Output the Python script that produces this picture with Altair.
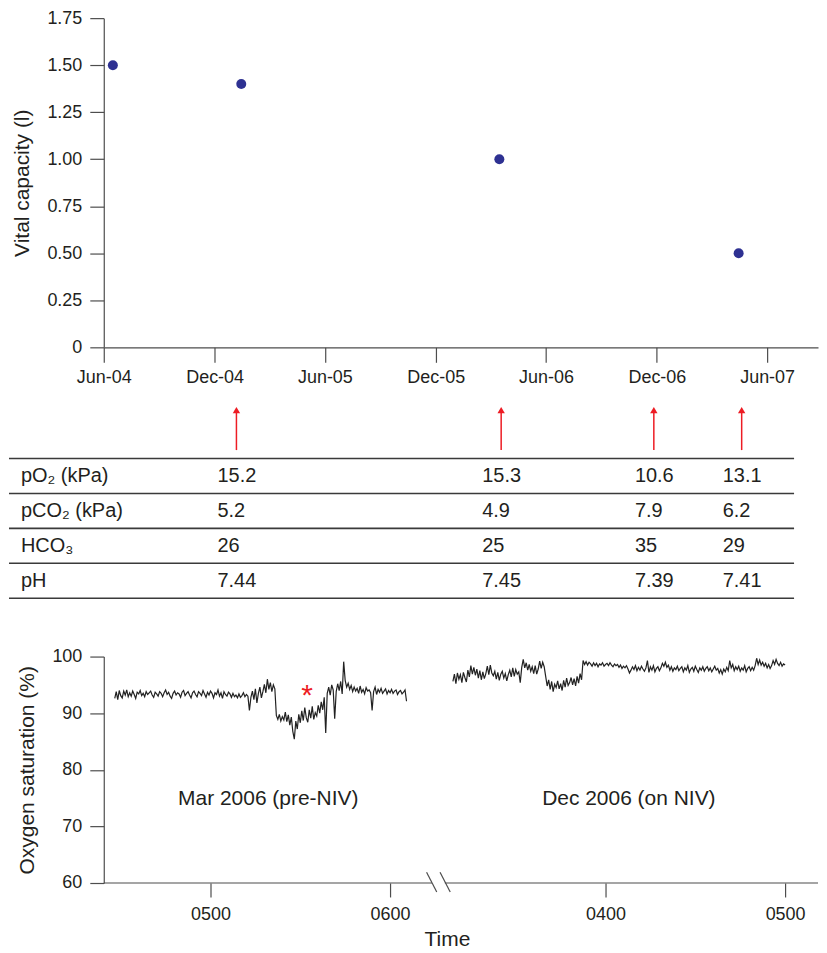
import altair as alt
import pandas as pd

FONT = "Liberation Sans"
TXT = "#231f20"
AX = "#4d4d4d"
RED = "#ed1c24"
NAVY = "#2e3192"

# ---------------- top panel: vital capacity ----------------
vc_dates = ["2004-06-16T00:00:00", "2005-01-14T00:00:00", "2006-03-16T00:00:00", "2007-04-15T00:00:00"]
vc_values = [1.50, 1.40, 1.00, 0.50]
vc_ticks = [0, 0.25, 0.5, 0.75, 1.0, 1.25, 1.5, 1.75]
date_ticks = [(2004, 6), (2004, 12), (2005, 6), (2005, 12), (2006, 6), (2006, 12), (2007, 6)]

# ---------------- blood gas table ----------------
abg_dates = ["2005-01-06T00:00:00", "2006-03-19T00:00:00", "2006-11-26T00:00:00", "2007-04-20T00:00:00"]
abg_rows = ["pO\u2082 (kPa)", "pCO\u2082 (kPa)", "HCO\u2083", "pH"]
po2 = ["15.2", "15.3", "10.6", "13.1"]
pco2 = ["5.2", "4.9", "7.9", "6.2"]
hco3 = ["26", "25", "35", "29"]
ph = ["7.44", "7.45", "7.39", "7.41"]

# ---------------- overnight oximetry ----------------
# samples every 0.5 min; pre-NIV night starts 04:28, on-NIV night starts 03:09
pre_start_clock = 268.0
on_start_clock = 189.0
pre_niv = [
    92.6, 93.8, 92.4, 94.0, 93.1, 92.7, 93.9, 93.2, 94.1, 92.9,
    93.6, 93.0, 93.9, 93.3, 92.6, 93.7, 93.4, 94.0, 93.1, 93.5,
    92.9, 93.8, 93.3, 93.6, 93.9, 93.2, 92.8, 93.7, 93.4, 93.0,
    93.8, 93.5, 92.9, 93.6, 94.1, 93.3, 93.7, 93.0, 92.6, 93.5,
    93.9, 93.2, 93.6, 93.4, 92.8, 93.7, 94.0, 93.1, 93.5, 93.8,
    93.2, 92.7, 93.6, 93.9, 93.3, 92.9, 93.8, 93.5, 93.1, 94.0,
    93.4, 92.8, 93.7, 93.2, 93.9, 93.5, 92.7, 93.6, 93.3, 94.1,
    93.0, 93.6, 92.6, 93.8, 93.3, 93.0, 93.7, 93.4, 92.8, 93.5,
    92.9, 93.2, 92.7, 93.4, 92.8, 93.1, 93.6, 92.9, 93.3, 93.0,
    90.5, 92.8, 93.9, 92.4, 94.3, 91.8, 93.5, 94.6, 92.7, 93.8,
    95.1, 93.6, 96.0, 94.2, 95.4, 93.8, 95.0, 94.3, 89.6, 88.9,
    89.8, 88.6, 89.4, 88.8, 90.2, 88.5, 89.7, 87.9, 89.3, 86.8,
    85.4, 88.6, 87.2, 89.8, 88.3, 90.4, 88.7, 91.0, 89.2, 88.4,
    90.6, 89.1, 91.2, 88.9, 90.1, 89.5, 91.4, 90.0, 92.0, 90.6,
    92.8, 86.5, 93.5, 94.6, 93.2, 95.0, 94.1, 89.0, 93.8, 95.2,
    94.0, 95.6, 93.4, 99.1, 95.8, 94.6, 95.3, 94.2, 94.9, 93.8,
    94.6, 93.9, 94.4, 93.5, 94.8, 93.7, 94.2, 93.4, 94.5, 93.9,
    94.1, 93.6, 90.5, 93.8, 94.6, 93.3, 94.2, 93.7, 94.4, 93.5,
    93.9, 94.3, 93.4, 94.0, 93.6, 94.2, 93.5, 93.9, 94.1, 93.3,
    93.8, 94.0, 93.4, 93.7, 94.1, 92.1,
]
on_niv = [
    95.6, 96.9, 95.2, 97.1, 96.0, 96.8, 95.4, 97.2, 96.3, 95.5,
    97.6, 96.4, 98.4, 96.9, 98.1, 96.7, 97.8, 96.2, 97.5, 95.9,
    97.3, 96.1, 97.0, 98.3, 96.8, 98.5, 97.1, 96.6, 97.4, 96.0,
    97.2, 95.8, 96.9, 97.4, 96.2, 97.0, 95.7, 96.8, 97.6, 96.4,
    98.0, 96.5, 97.7, 96.9, 97.3, 95.4, 98.1, 99.5, 98.0, 98.9,
    97.6, 98.6, 97.4, 98.2, 97.0, 98.4, 96.9, 97.8, 99.2, 97.9,
    99.0, 98.2, 96.5, 94.8, 95.9, 94.2, 95.6, 93.8, 95.1, 94.5,
    95.7, 94.3, 95.2, 94.0, 95.8, 94.6, 96.2, 94.9, 95.4, 96.3,
    95.0, 96.1, 94.8, 96.5, 95.3, 97.0, 95.9, 99.3, 98.6, 99.1,
    98.5, 99.0, 98.7, 98.3, 98.9, 98.4, 98.8, 98.2, 98.7, 98.5,
    98.9, 98.3, 98.6, 98.8, 98.4, 98.9, 98.5, 98.2, 98.7, 98.4,
    98.6, 98.1, 98.5, 97.9, 98.3, 98.0, 98.4, 97.8, 97.1, 97.6,
    98.2, 97.7, 98.4, 97.5, 98.1, 97.6, 98.3, 97.8, 97.4, 98.0,
    99.3, 97.2, 98.2, 97.6, 98.4, 97.3, 97.9, 98.2, 97.5, 98.0,
    98.8, 98.3, 99.0, 98.1, 98.5, 97.6, 98.2, 97.4, 98.0, 97.7,
    98.3, 97.5, 97.9, 98.2, 97.3, 98.0, 97.6, 98.4, 97.2, 97.8,
    98.1, 97.4, 98.3, 97.7, 97.2, 98.0, 97.6, 98.2, 97.4, 97.9,
    98.2, 97.5, 98.0, 97.3, 97.8, 98.3, 97.6, 97.9, 97.1, 97.7,
    96.9, 97.8, 97.3, 98.1, 97.5, 99.3, 98.0, 98.6, 97.5, 98.2,
    97.7, 98.3, 97.4, 98.0, 97.6, 98.4, 97.3, 97.9, 98.2, 97.5,
    98.1, 97.6, 98.4, 99.7, 98.6, 99.4, 98.5, 99.0, 98.3, 98.8,
    98.0, 98.6, 97.9, 98.4, 99.3, 98.6, 99.5, 98.8, 98.4, 99.0,
    98.3, 98.7, 98.5,
]
sat_ticks = [60, 70, 80, 90, 100]
time_tick_labels = ["0500", "0600", "0400", "0500"]
time_tick_clock = [300, 360, 240, 300]          # minutes after midnight
time_tick_night = ["pre", "pre", "on", "on"]
night_labels = ["Mar 2006 (pre-NIV)", "Dec 2006 (on NIV)"]
night_label_clock = [319.3, 247.8]
night_label_sat = [74.8, 74.8]
event_clock = 332.3   # asterisk: desaturation event
event_sat = 94.4

# --- layout of the broken time axis (axis units = minutes) ---
night_offset = {"pre": 240.0, "on": 48.0}
axis_lo, axis_hi = 24.33, 263.0
break_lo, break_hi = 134.0, 138.3
slash_x = [132.2, 136.7]
slash_w = 3.4

W = 716

# ---------------- data frames ----------------
vc_df = pd.DataFrame({"date": vc_dates, "vc": vc_values})

tab_vals = [po2, pco2, hco3, ph]
abg_df = pd.DataFrame([
    {"date": d, "row": r, "val": tab_vals[r][i]}
    for r in range(len(abg_rows)) for i, d in enumerate(abg_dates)
])
arrow_df = pd.DataFrame({"date": abg_dates})
rowlab_df = pd.DataFrame({"row": list(range(len(abg_rows))), "label": abg_rows})
lines_df = pd.DataFrame({"row": [i - 0.5 for i in range(len(abg_rows) + 1)]})

trace_rows = []
for seg, start, vals in [("pre", pre_start_clock, pre_niv), ("on", on_start_clock, on_niv)]:
    for i, v in enumerate(vals):
        trace_rows.append({"seg": seg, "pos": start + 0.5 * i - night_offset[seg], "sat": v})
trace_df = pd.DataFrame(trace_rows)

tick_pos = [c - night_offset[n] for c, n in zip(time_tick_clock, time_tick_night)]
label_expr = " : ".join(
    f"datum.value == {p} ? '{l}'" for p, l in zip(tick_pos[:-1], time_tick_labels[:-1])
) + f" : '{time_tick_labels[-1]}'"

base_df = pd.DataFrame({"x": [axis_lo, break_hi], "x2": [break_lo, axis_hi], "y": [60, 60]})
slash_df = pd.DataFrame({"x": slash_x, "x2": [s + slash_w for s in slash_x],
                         "y": [61.9, 61.9], "y2": [58.4, 58.4]})
ann_df = pd.DataFrame({
    "pos": [c - night_offset[n] for c, n in zip(night_label_clock, ["pre", "on"])],
    "sat": night_label_sat, "label": night_labels})
ev_df = pd.DataFrame({"pos": [event_clock - night_offset["pre"]], "sat": [event_sat], "t": ["*"]})

# ---------------- scales ----------------
xs_time = alt.Scale(domain=[alt.DateTime(year=2004, month=6, date=1),
                            alt.DateTime(year=2007, month=8, date=24)])
ys_tab = alt.Scale(domain=[0, 3], range=[74, 179], nice=False, zero=False)
xs_min = alt.Scale(domain=[axis_lo, axis_hi], nice=False, zero=False)
ys_sat = alt.Scale(domain=[60, 100], nice=False, zero=False)

# ---------------- top ----------------
top = alt.Chart(vc_df).mark_circle(size=100, color=NAVY, opacity=1).encode(
    x=alt.X("date:T", scale=xs_time,
            axis=alt.Axis(values=[alt.DateTime(year=y, month=m, date=1) for y, m in date_ticks],
                          format="%b-%y", title=None, tickSize=15, labelPadding=6,
                          labelFlush=False, grid=False)),
    y=alt.Y("vc:Q", scale=alt.Scale(domain=[0, 1.75], nice=False),
            axis=alt.Axis(values=vc_ticks,
                          labelExpr="datum.value == 0 ? '0' : format(datum.value, '.2f')",
                          title="Vital capacity (l)", tickSize=14, labelPadding=8,
                          labelFlush=False, titlePadding=14, grid=False)),
).properties(width=W, height=330)

# ---------------- middle (table) ----------------
shafts = alt.Chart(arrow_df).mark_rule(color=RED, strokeWidth=1.5).encode(
    x=alt.X("date:T", scale=xs_time, axis=None), y=alt.value(48), y2=alt.value(10))
heads = alt.Chart(arrow_df).mark_point(shape="triangle-up", filled=True, size=55,
                                       color=RED, opacity=1).encode(
    x=alt.X("date:T", scale=xs_time, axis=None), y=alt.value(8))
hlines = alt.Chart(lines_df).mark_rule(color="#3a3a3a", strokeWidth=1.6).encode(
    x=alt.value(-95), x2=alt.value(692), y=alt.Y("row:Q", scale=ys_tab, axis=None))
vals = alt.Chart(abg_df).mark_text(align="left", baseline="middle", dx=-19, fontSize=20,
                                   font=FONT, color=TXT).encode(
    x=alt.X("date:T", scale=xs_time, axis=None),
    y=alt.Y("row:Q", scale=ys_tab, axis=None), text="val:N")
rowlabs = alt.Chart(rowlab_df).mark_text(align="left", baseline="middle", fontSize=20,
                                         font=FONT, color=TXT).encode(
    x=alt.value(-83), y=alt.Y("row:Q", scale=ys_tab, axis=None), text="label:N")
mid = alt.layer(hlines, shafts, heads, vals, rowlabs).properties(width=W, height=200)

# ---------------- bottom (oximetry) ----------------
trace = alt.Chart(trace_df).mark_line(color="#222222", strokeWidth=1.2).encode(
    x=alt.X("pos:Q", scale=xs_min,
            axis=alt.Axis(values=tick_pos, labelExpr=label_expr, domain=False, title="Time",
                          titleX=344, tickSize=14, labelPadding=9, titlePadding=5,
                          labelFlush=False, grid=False)),
    y=alt.Y("sat:Q", scale=ys_sat,
            axis=alt.Axis(values=sat_ticks, title="Oxygen saturation (%)", tickSize=14,
                          labelPadding=8, labelFlush=False, titlePadding=14, grid=False)),
    detail="seg:N")
baseline = alt.Chart(base_df).mark_rule(color=AX, strokeWidth=1.2).encode(
    x=alt.X("x:Q", scale=xs_min), x2="x2:Q", y=alt.Y("y:Q", scale=ys_sat))
slashes = alt.Chart(slash_df).mark_rule(color=AX, strokeWidth=1.2).encode(
    x=alt.X("x:Q", scale=xs_min), x2="x2:Q", y=alt.Y("y:Q", scale=ys_sat), y2="y2:Q")
ann = alt.Chart(ann_df).mark_text(fontSize=21, font=FONT, color=TXT, baseline="middle").encode(
    x=alt.X("pos:Q", scale=xs_min), y=alt.Y("sat:Q", scale=ys_sat), text="label:N")
ev = alt.Chart(ev_df).mark_text(fontSize=30, font=FONT, color=RED, baseline="alphabetic",
                                dy=17).encode(
    x=alt.X("pos:Q", scale=xs_min), y=alt.Y("sat:Q", scale=ys_sat), text="t:N")
bot = alt.layer(trace, baseline, slashes, ann, ev).properties(width=W, height=227)

chart = alt.vconcat(top, mid, bot, spacing=55, bounds="flush").properties(
    padding=0
).configure_view(strokeWidth=0).configure_axis(
    labelFont=FONT, titleFont=FONT, labelFontSize=18, titleFontSize=21,
    titleFontWeight="normal", labelColor=TXT, titleColor=TXT,
    domainColor=AX, tickColor=AX, domainWidth=1.2, tickWidth=1.2,
)

chart.save("out.html", embed_options={"renderer": "svg", "actions": False})
